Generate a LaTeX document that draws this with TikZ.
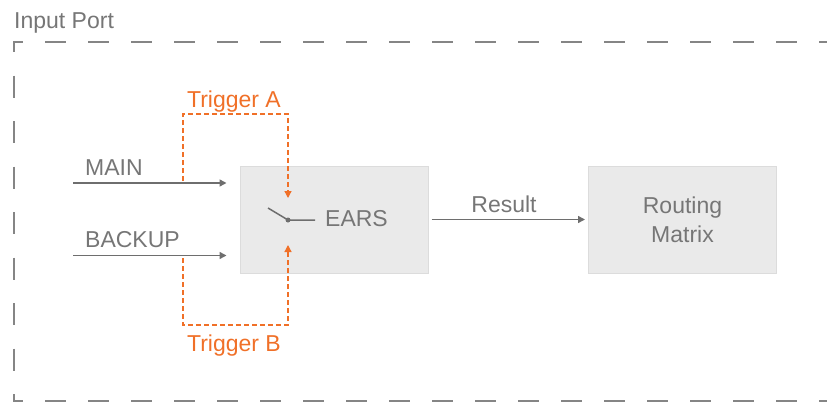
\documentclass[tikz,border=0pt]{standalone}
\usepackage{fontspec}
\setmainfont{Liberation Sans}
\usetikzlibrary{arrows.meta}
\definecolor{tgray}{HTML}{767676}
\definecolor{lgray}{HTML}{6E6E6E}
\definecolor{bgray}{HTML}{EAEAEA}
\definecolor{bdgray}{HTML}{DCDCDC}
\definecolor{dgray}{HTML}{858585}
\definecolor{orng}{HTML}{F07028}
\begin{document}
\begin{tikzpicture}[x=1pt,y=-1pt,
  lbl/.style={text=tgray,font=\fontsize{23}{29}\selectfont,inner sep=0pt},
  trg/.style={text=orng,font=\fontsize{23}{29}\selectfont,inner sep=0pt},
  blk/.style={fill=bgray,draw=bdgray,line width=1pt,minimum width=188pt,minimum height=107pt,inner sep=0pt},
  flow/.style={draw=lgray,line width=1.5pt,-{Triangle[length=7pt,width=7pt]}},
  trig/.style={draw=orng,line width=1.3pt,dash pattern=on 5pt off 3pt,-{Triangle[length=7pt,width=7pt]}},
  border/.style={draw=dgray,line width=1.5pt}]
\useasboundingbox (0,0) rectangle (827,402);

% outer dashed border
\draw[border,dash pattern=on 21pt off 22pt,dash phase=11pt] (13.25,42) -- (827,42);
\draw[border,dash pattern=on 22pt off 23.5pt,dash phase=12pt] (14,42) -- (14,401);
\draw[border,dash pattern=on 21pt off 22pt,dash phase=11pt] (13.25,401) -- (827,401);
\node[lbl,anchor=base west] (inport) at (14,28) {Input Port};

% blocks
\node[blk] (ears) at (334,219.5) {};
\node[blk,text=tgray,font=\fontsize{23}{29}\selectfont,align=center] (rm) at (682.5,219.5) {Routing\\Matrix};
\node[lbl,anchor=base west] (earstxt) at (325,226) {EARS};

% switch
\coordinate (sw1) at (268,208);
\coordinate (sw2) at (315,220);
\node[circle,fill=lgray,inner sep=0pt,minimum size=5pt] (pivot) at (288,220) {};
\draw[lgray,line width=1.5pt] (sw1) -- (pivot.center) -- (sw2);

% inputs
\coordinate (mainin) at (73,183);
\coordinate (backin) at (73,255.5);
\draw[flow,shorten >=13pt] (mainin) -- (ears.west |- mainin);
\draw[flow,shorten >=13pt] (backin) -- (ears.west |- backin);
\node[lbl,anchor=base west] (mainlbl) at (85,175) {MAIN};
\node[lbl,anchor=base west] (backlbl) at (85,247) {BACKUP};

% result
\draw[flow,shorten <=3pt,shorten >=3pt] (ears.east) -- (rm.west);
\node[lbl,anchor=base] (reslbl) at (504,212) {Result};

% triggers
\coordinate (ta0) at (183,181);
\coordinate (taR) at (288,114);
\draw[trig,shorten >=22pt] (ta0) |- (taR) -- (pivot.center);
\node[trg,anchor=base] (talbl) at (234,107) {Trigger A};

\coordinate (tb0) at (183,258);
\coordinate (tbR) at (288,325);
\draw[trig,shorten >=25pt] (tb0) |- (tbR) -- (pivot.center);
\node[trg,anchor=base] (tblbl) at (234,351) {Trigger B};
\end{tikzpicture}
\end{document}
